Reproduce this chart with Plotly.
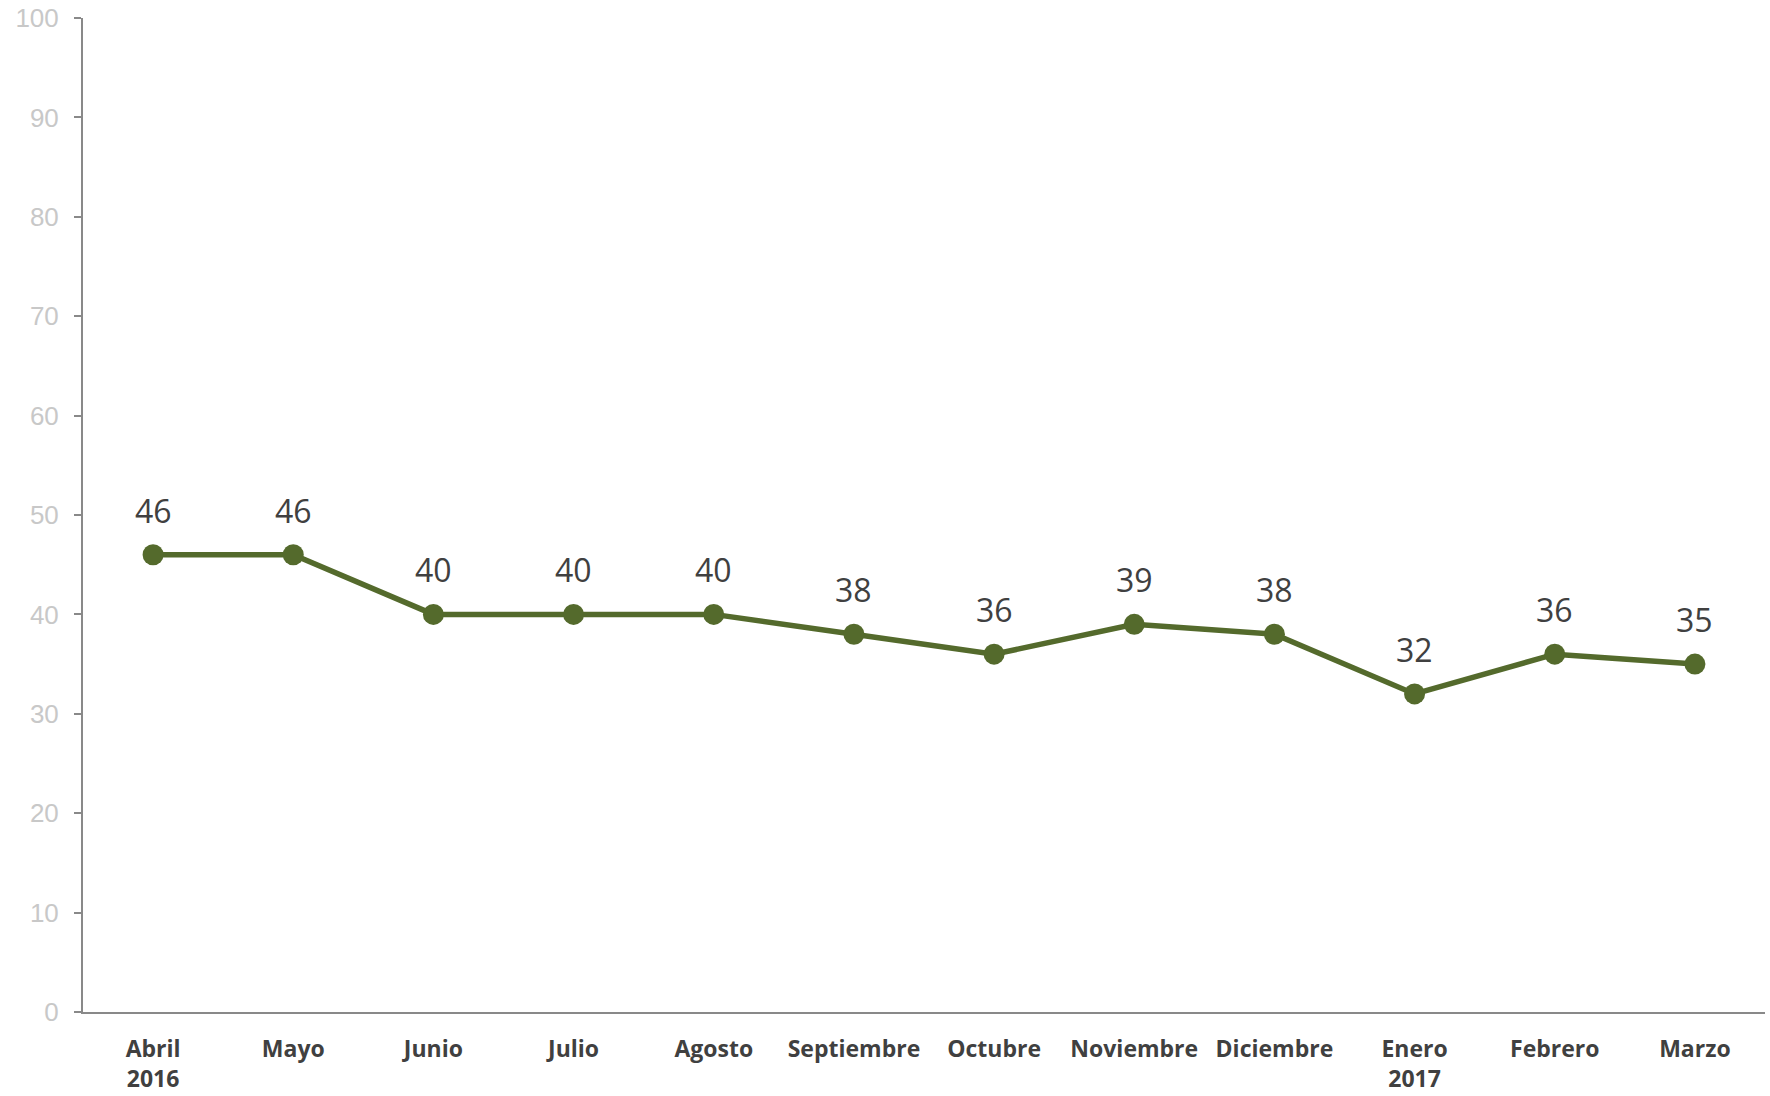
import plotly.graph_objects as go

categories = ["Abril<br>2016", "Mayo", "Junio", "Julio", "Agosto", "Septiembre",
              "Octubre", "Noviembre", "Diciembre", "Enero<br>2017", "Febrero", "Marzo"]
values = [46, 46, 40, 40, 40, 38, 36, 39, 38, 32, 36, 35]
y_ticks = [0, 10, 20, 30, 40, 50, 60, 70, 80, 90, 100]

LINE_COLOR = "#546a2c"
AXIS_COLOR = "#898989"

fig = go.Figure()
fig.add_trace(go.Scatter(
    x=categories, y=values, mode="lines+markers",
    line=dict(color=LINE_COLOR, width=5.5),
    marker=dict(color=LINE_COLOR, size=21),
    hoverinfo="skip", showlegend=False,
))

for c, v in zip(categories, values):
    fig.add_annotation(x=c, y=v, text=str(v), showarrow=False,
                       yanchor="bottom", yshift=21,
                       font=dict(family="Open Sans", size=32, color="#404040"))

fig.update_layout(
    width=1770, height=1096,
    margin=dict(l=83, r=5, t=18, b=84),
    paper_bgcolor="white", plot_bgcolor="white",
    showlegend=False,
)
fig.update_xaxes(
    type="category", range=[-0.5, 11.5], automargin=False,
    showline=True, linecolor=AXIS_COLOR, linewidth=2,
    showgrid=False, zeroline=False, ticks="",
    tickfont=dict(family="Open Sans", size=23, color="#404040", weight="bold"),
    ticklabelstandoff=15,
)
fig.update_yaxes(
    range=[0, 100], tickvals=y_ticks, automargin=False,
    showline=True, linecolor=AXIS_COLOR, linewidth=2,
    showgrid=False, zeroline=False,
    ticks="outside", ticklen=7, tickcolor=AXIS_COLOR, tickwidth=2,
    tickfont=dict(family="Liberation Sans", size=26, color="#c8c8c8"),
    ticklabelstandoff=10,
)

fig.write_html("out.html",
               config={"displayModeBar": False},
               post_script="document.body.style.margin='0';document.body.style.overflow='hidden';")
